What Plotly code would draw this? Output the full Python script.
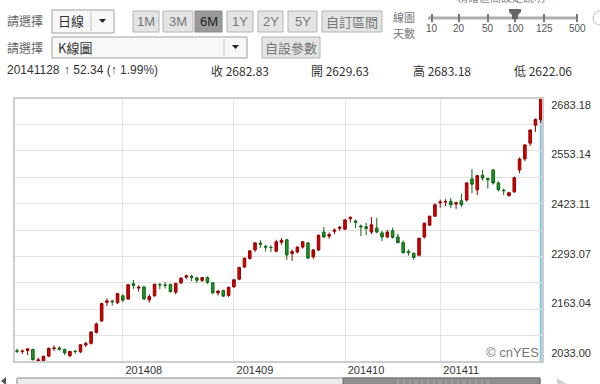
import plotly.graph_objects as go

# ---------------- data ----------------
dates = [
    "2014-07-04", "2014-07-07", "2014-07-08", "2014-07-09", "2014-07-10", "2014-07-11", "2014-07-14",
    "2014-07-15", "2014-07-16", "2014-07-17", "2014-07-18", "2014-07-21", "2014-07-22", "2014-07-23",
    "2014-07-24", "2014-07-25", "2014-07-28", "2014-07-29", "2014-07-30", "2014-07-31",
    "2014-08-01", "2014-08-04", "2014-08-05", "2014-08-06", "2014-08-07", "2014-08-08", "2014-08-11",
    "2014-08-12", "2014-08-13", "2014-08-14", "2014-08-15", "2014-08-18", "2014-08-19", "2014-08-20",
    "2014-08-21", "2014-08-22", "2014-08-25", "2014-08-26", "2014-08-27", "2014-08-28", "2014-08-29",
    "2014-09-01", "2014-09-02", "2014-09-03", "2014-09-04", "2014-09-05", "2014-09-09", "2014-09-10",
    "2014-09-11", "2014-09-12", "2014-09-15", "2014-09-16", "2014-09-17", "2014-09-18", "2014-09-19",
    "2014-09-22", "2014-09-23", "2014-09-24", "2014-09-25", "2014-09-26", "2014-09-29", "2014-09-30",
    "2014-10-08", "2014-10-09", "2014-10-10", "2014-10-13", "2014-10-14", "2014-10-15", "2014-10-16",
    "2014-10-17", "2014-10-20", "2014-10-21", "2014-10-22", "2014-10-23", "2014-10-24", "2014-10-27",
    "2014-10-28", "2014-10-29", "2014-10-30", "2014-10-31",
    "2014-11-03", "2014-11-04", "2014-11-05", "2014-11-06", "2014-11-07", "2014-11-10", "2014-11-11",
    "2014-11-12", "2014-11-13", "2014-11-14", "2014-11-17", "2014-11-18", "2014-11-19", "2014-11-20",
    "2014-11-21", "2014-11-24", "2014-11-25", "2014-11-26", "2014-11-27", "2014-11-28",
]
opens = [
    2060.5, 2058.5, 2061.0, 2064.0, 2036.5, 2036.0, 2047.5, 2066.0, 2067.5, 2064.0,
    2048.5, 2059.5, 2058.0, 2075.0, 2079.0, 2106.0, 2134.0, 2180.0, 2183.0, 2179.0,
    2196.0, 2188.0, 2225.5, 2215.0, 2218.0, 2186.0, 2196.0, 2223.5, 2222.5, 2224.0,
    2205.0, 2228.0, 2242.0, 2244.0, 2240.0, 2234.0, 2241.0, 2228.0, 2203.0, 2209.0,
    2197.0, 2218.0, 2237.0, 2267.0, 2288.0, 2309.0, 2326.0, 2318.0, 2315.0, 2306.0,
    2328.0, 2334.0, 2300.0, 2304.0, 2316.0, 2326.0, 2292.0, 2309.0, 2353.0, 2343.0,
    2355.0, 2362.0, 2360.0, 2386.0, 2380.0, 2368.0, 2366.0, 2353.0, 2363.0, 2351.0,
    2341.0, 2356.0, 2341.0, 2327.0, 2305.0, 2301.0, 2296.0, 2341.0, 2370.0, 2392.0,
    2425.0, 2427.0, 2429.0, 2422.0, 2430.0, 2432.0, 2484.0, 2457.0, 2493.0, 2485.0,
    2506.0, 2474.0, 2456.0, 2443.0, 2452.0, 2506.0, 2533.0, 2572.0, 2616.0, 2629.63,
]
highs = [
    2066.0, 2064.0, 2066.5, 2066.0, 2044.0, 2049.0, 2068.5, 2074.0, 2072.0, 2066.0,
    2060.0, 2063.0, 2076.0, 2083.0, 2108.0, 2130.0, 2178.5, 2190.0, 2186.5, 2203.0,
    2200.0, 2224.5, 2235.0, 2222.0, 2220.0, 2200.0, 2225.5, 2228.0, 2230.0, 2226.0,
    2228.0, 2242.0, 2248.0, 2248.0, 2243.0, 2242.0, 2244.0, 2229.0, 2210.0, 2211.0,
    2218.0, 2236.0, 2267.0, 2290.0, 2307.0, 2327.0, 2333.0, 2322.0, 2321.0, 2334.0,
    2338.0, 2336.0, 2310.0, 2318.0, 2331.0, 2329.0, 2311.0, 2347.0, 2365.0, 2352.0,
    2362.0, 2368.0, 2385.0, 2392.0, 2384.0, 2372.0, 2376.0, 2390.0, 2388.0, 2356.0,
    2358.0, 2364.0, 2349.0, 2332.0, 2310.0, 2302.0, 2338.0, 2376.0, 2393.0, 2424.0,
    2433.0, 2434.0, 2437.0, 2428.0, 2448.0, 2476.0, 2508.0, 2494.0, 2506.0, 2487.0,
    2508.0, 2478.0, 2460.0, 2452.0, 2490.0, 2537.0, 2569.0, 2606.0, 2633.0, 2683.18,
]
lows = [
    2055.0, 2053.0, 2050.0, 2037.0, 2034.5, 2033.0, 2045.0, 2060.0, 2061.0, 2050.0,
    2045.0, 2053.0, 2055.0, 2070.0, 2076.0, 2103.0, 2132.0, 2171.0, 2172.0, 2176.0,
    2180.0, 2186.0, 2213.0, 2206.0, 2185.0, 2179.0, 2194.0, 2212.0, 2214.0, 2204.0,
    2200.0, 2225.0, 2237.0, 2232.0, 2228.0, 2230.0, 2225.0, 2200.0, 2197.0, 2193.0,
    2193.0, 2216.0, 2234.0, 2265.0, 2285.0, 2304.0, 2314.0, 2305.0, 2304.0, 2303.0,
    2322.0, 2284.0, 2282.0, 2300.0, 2312.0, 2286.0, 2287.0, 2306.0, 2338.0, 2336.0,
    2348.0, 2356.0, 2358.0, 2377.0, 2363.0, 2343.0, 2345.0, 2348.0, 2350.0, 2331.0,
    2338.0, 2337.0, 2325.0, 2300.0, 2295.0, 2284.0, 2293.0, 2337.0, 2368.0, 2390.0,
    2413.0, 2417.0, 2412.0, 2410.0, 2415.0, 2428.0, 2449.0, 2444.0, 2480.0, 2460.0,
    2470.0, 2453.0, 2444.0, 2440.0, 2450.0, 2498.0, 2527.0, 2565.0, 2600.0, 2622.06,
]
closes = [
    2059.4, 2059.7, 2065.5, 2038.7, 2038.3, 2047.0, 2066.7, 2067.3, 2064.4, 2055.6,
    2059.1, 2058.8, 2075.5, 2078.3, 2107.1, 2126.6, 2177.1, 2183.5, 2181.3, 2201.6,
    2185.3, 2223.3, 2221.6, 2217.2, 2188.6, 2194.4, 2224.7, 2222.8, 2222.1, 2206.5,
    2226.7, 2239.5, 2245.3, 2240.8, 2234.4, 2240.8, 2229.4, 2203.4, 2207.7, 2195.3,
    2217.2, 2235.5, 2266.1, 2288.6, 2306.9, 2326.4, 2323.0, 2316.0, 2315.0, 2329.0,
    2333.0, 2296.5, 2305.0, 2316.0, 2329.0, 2289.0, 2309.0, 2345.0, 2341.0, 2347.0,
    2358.0, 2365.0, 2383.0, 2389.0, 2377.0, 2366.0, 2362.0, 2371.0, 2353.0, 2341.0,
    2353.0, 2340.0, 2327.0, 2302.4, 2302.3, 2290.4, 2337.9, 2375.0, 2392.0, 2420.2,
    2427.0, 2428.0, 2420.0, 2425.0, 2420.0, 2474.0, 2471.0, 2492.0, 2486.0, 2482.0,
    2474.0, 2457.0, 2455.0, 2450.0, 2486.8, 2532.9, 2567.6, 2604.4, 2630.49, 2682.83,
]

# ---------------- derived ----------------
ymin, ymax = min(lows), max(highs)
month_ticks, month_text = [], []
for i in range(1, len(dates)):
    if dates[i][:7] != dates[i - 1][:7]:
        month_ticks.append(dates[i])
        month_text.append(dates[i][:4] + dates[i][5:7])
label_vals = [ymin + k * (ymax - ymin) / 5 for k in range(6)]
label_text = ["%.2f" % v for v in label_vals]

chg = closes[-1] - closes[-2]
pct = chg / closes[-2] * 100

# ---------------- layout geometry (pixels) ----------------
W, H = 600, 384
PL, PR, PT, PB = 14, 543, 98, 362


def px(x):
    return (x - PL) / (PR - PL)


def py(y):
    return (PB - y) / (PB - PT)


shapes = []
annots = []


def rect(x0, y0, x1, y1, fill, line="#a9a9a9", lw=1):
    shapes.append(dict(type="rect", xref="paper", yref="paper", x0=px(x0), x1=px(x1),
                       y0=py(y1), y1=py(y0), fillcolor=fill, line=dict(color=line, width=lw),
                       layer="above"))


def seg(x0, y0, x1, y1, color, lw=1):
    shapes.append(dict(type="line", xref="paper", yref="paper", x0=px(x0), x1=px(x1),
                       y0=py(y0), y1=py(y1), line=dict(color=color, width=lw), layer="above"))


def poly(pts, fill, line=None):
    path = "M " + " L ".join("%f,%f" % (px(a), py(b)) for a, b in pts) + " Z"
    shapes.append(dict(type="path", xref="paper", yref="paper", path=path, fillcolor=fill,
                       line=dict(color=line or fill, width=1 if line else 0), layer="above"))


def text(x, y, s, size=12, color="#333", anchor="left", family="Arial, Liberation Sans, Noto Sans CJK TC"):
    annots.append(dict(x=px(x), y=py(y), xref="paper", yref="paper", text=s, showarrow=False,
                       xanchor=anchor, yanchor="middle", borderpad=0,
                       font=dict(size=size, color=color, family=family)))


CJK = "Noto Sans CJK TC, Arial"

# --- row 1 ---
text(6, 21, "請選擇", 12, "#666", family=CJK)
rect(52, 10, 114, 33, "#f8f8f8", "#a0a0a0")
seg(91, 12, 91, 31, "#c0c0c0")
text(57, 21, "日線", 13, "#333", family=CJK)
poly([(99, 19), (106, 19), (102.5, 23)], "#222")
buttons = [("1M", 133, 159), ("3M", 163, 193), ("6M", 195, 222), ("1Y", 227, 253),
           ("2Y", 258, 283), ("5Y", 288, 317), ("自訂區間", 322, 382)]
for lab, a, b in buttons:
    pressed = lab == "6M"
    rect(a, 11, b, 32, "#9a9a9a" if pressed else "#e4e4e4", "#8a8a8a" if pressed else "#b5b5b5")
    text((a + b) / 2, 21.5, lab, 13, "#222" if pressed else "#777", anchor="center",
         family=CJK if len(lab) > 2 else "Arial, Liberation Sans")
# slider
text(392, 17, "線圖", 11, "#777", family=CJK)
text(392, 33, "天數", 11, "#777", family=CJK)
seg(428, 18, 578, 18, "#b0b0b0", 3)
for lab, xx in [("10", 432), ("20", 459), ("50", 488), ("100", 515), ("125", 544), ("500", 577)]:
    seg(xx, 14, xx, 22, "#777", 2)
    text(xx, 28, lab, 10, "#555", anchor="center", family="Arial, Liberation Sans")
poly([(509, 9), (521, 9), (521, 12), (518, 15), (518, 19), (512, 19), (512, 15), (509, 12)], "#666")
shapes.append(dict(type="circle", xref="paper", yref="paper", x0=px(593), x1=px(607), y0=py(25), y1=py(11),
                   line=dict(color="#bbb", width=1), layer="above"))
text(501, -3, "精確區間設定說明", 11, "#888", anchor="center", family=CJK)

# --- row 2 ---
text(6, 47, "請選擇", 12, "#666", family=CJK)
rect(52, 37, 247, 58, "#f8f8f8", "#a0a0a0")
seg(224, 39, 224, 56, "#c8c8c8")
text(57, 47, "K線圖", 13, "#333", family=CJK)
poly([(232, 45), (239, 45), (235.5, 49)], "#222")
rect(262, 37, 320, 58, "#e4e4e4", "#b5b5b5")
text(291, 47.5, "自設參數", 13, "#777", anchor="center", family=CJK)

# --- row 3: quote summary from the data ---
text(6, 70, dates[-1].replace("-", ""), 12, "#333")
text(63, 70, "↑ %.2f (↑ %.2f%%)" % (chg, pct), 12, "#333")
text(210, 70, "收 %.2f" % closes[-1], 12, "#333", family=CJK)
text(310, 70, "開 %.2f" % opens[-1], 12, "#333", family=CJK)
text(412, 70, "高 %.2f" % highs[-1], 12, "#333", family=CJK)
text(513, 70, "低 %.2f" % lows[-1], 12, "#333", family=CJK)

# --- chart frame & cursor line ---
shapes.append(dict(type="line", xref="x", yref="paper", x0=dates[-1], x1=dates[-1], y0=0, y1=1,
                   line=dict(color="#86c3de", width=2), layer="between"))
shapes.append(dict(type="rect", xref="paper", yref="paper", x0=0, x1=1, y0=0, y1=1,
                   line=dict(color="#cdcdcd", width=2), layer="above"))
text(540, 352, "© cnYES", 13, "#777", anchor="right", family="Arial, Liberation Sans")

# --- bottom navigator ---
rect(17, 378, 540, 392, "#ececec", "#8c8c8c")
rect(343, 378, 540, 392, "#8e8e8e", "#6e6e6e")
for xx in range(398, 494, 6):
    seg(xx, 380, xx, 392, "#b4b4b4", 1)
poly([(557, 378), (567, 384), (557, 390)], "#d2d2d2")
poly([(6, 377), (1, 381), (6, 385)], "#555")

# ---------------- figure ----------------
fig = go.Figure()
fig.add_trace(go.Candlestick(
    x=dates, open=opens, high=highs, low=lows, close=closes,
    increasing=dict(fillcolor="#d10000", line=dict(color="#960000", width=1)),
    decreasing=dict(fillcolor="#22962a", line=dict(color="#0f6616", width=1)),
    whiskerwidth=0, showlegend=False, hoverinfo="skip",
))
fig.add_trace(go.Scatter(x=[dates[0]], y=[ymin], yaxis="y2", mode="markers",
                         marker=dict(opacity=0), showlegend=False, hoverinfo="skip"))

lab_top, lab_bot = 105, 353
scale = (ymax - ymin) / (lab_bot - lab_top)
y2range = [ymin - (PB - lab_bot) * scale, ymax + (lab_top - PT) * scale]

fig.update_layout(
    width=W, height=H, autosize=False,
    margin=dict(l=PL, r=W - PR, t=PT, b=H - PB, pad=0, autoexpand=False),
    paper_bgcolor="white", plot_bgcolor="white",
    shapes=shapes, annotations=annots,
    xaxis=dict(type="category", range=[-0.57, len(dates) - 0.57], rangeslider=dict(visible=False),
               tickmode="array", tickvals=month_ticks, ticktext=month_text, ticklabelshift=21,
               ticks="", automargin=False,
               showgrid=True, gridcolor="#e4e4e4", gridwidth=1, zeroline=False, showline=False,
               tickfont=dict(size=11, color="#333", family="Arial, Liberation Sans")),
    yaxis=dict(range=[ymin, ymax], tick0=ymin, dtick=(ymax - ymin) / 10, showticklabels=False,
               automargin=False,
               showgrid=True, gridcolor="#e0e0e0", gridwidth=1, zeroline=False, showline=False),
    yaxis2=dict(overlaying="y", side="right", anchor="x", range=y2range, tickmode="array",
                tickvals=label_vals, ticktext=label_text, showgrid=False, zeroline=False,
                ticks="outside", ticklen=5, tickcolor="rgba(0,0,0,0)", automargin=False,
                tickfont=dict(size=11, color="#333", family="Arial, Liberation Sans")),
)

fig.write_html("out.html")
